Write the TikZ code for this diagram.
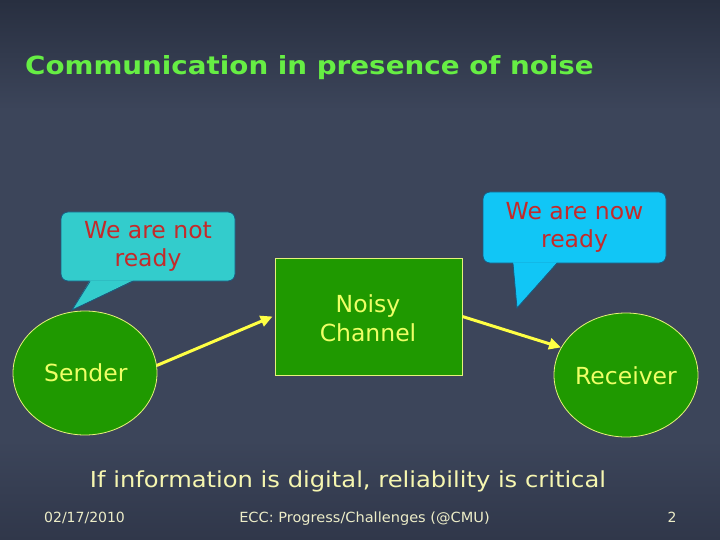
\documentclass[tikz,border=0pt]{standalone}
\usepackage{graphicx}
\usepackage{fontspec}
\setmainfont{DejaVu Sans}
\usetikzlibrary{arrows.meta,shapes.geometric}
\definecolor{bg}{HTML}{3C455A}
\definecolor{bgtop}{HTML}{282F40}
\definecolor{bgbot}{HTML}{30374A}
\definecolor{titlegreen}{HTML}{66EE44}
\definecolor{nodegreen}{HTML}{1F9900}
\definecolor{nodeedge}{HTML}{E6F27A}
\definecolor{nodetext}{HTML}{EEFF66}
\definecolor{calloutA}{HTML}{33CCCC}
\definecolor{calloutB}{HTML}{11C6F6}
\definecolor{calloutedge}{HTML}{1A5A80}
\definecolor{callouttext}{HTML}{C42A2A}
\definecolor{arrowyellow}{HTML}{FFFF44}
\definecolor{lighttext}{HTML}{F6F6B0}
\definecolor{foottext}{HTML}{EDEDC8}
\tikzset{
  bodyfont/.style={font=\fontsize{23.5}{28.5}\selectfont},
  callbox/.style={draw=calloutedge, line width=0.8pt, rounded corners=7pt, align=center,
    text=callouttext, bodyfont, inner sep=0pt},
  endpoint/.style={ellipse, draw=nodeedge, line width=0.8pt, fill=nodegreen,
    minimum width=144, minimum height=124, inner sep=0pt},
  chanbox/.style={draw=nodeedge, line width=0.8pt, fill=nodegreen,
    minimum width=187, minimum height=117, inner sep=0pt},
  nodelabel/.style={text=nodetext, bodyfont, align=center, inner sep=0pt},
  flow/.style={draw=arrowyellow, line width=3pt, -{Triangle[length=12pt,width=11pt]}},
  foot/.style={text=foottext, font=\fontsize{14}{16}\selectfont, inner sep=0pt, anchor=base}
}
\begin{document}
\begin{tikzpicture}[x=1pt,y=-1pt]
\useasboundingbox (0,0) rectangle (720,540);
\fill[bg] (0,0) rectangle (720,540);
\shade[top color=bgtop, bottom color=bg] (0,0) rectangle (720,110);
\shade[top color=bg, bottom color=bgbot] (0,440) rectangle (720,540);

% title
\node[anchor=base west, inner sep=0pt, text=titlegreen,
  font=\bfseries\fontsize{25}{30}\selectfont] (title) at (25,75) {\scalebox{1.11}[1]{Communication in presence of noise}};

% left callout
\node[callbox, fill=calloutA, minimum width=174, minimum height=69] (callL) at (148,246.5) {We are not\\ready};
\coordinate (tipL) at (72,310);
\fill[calloutA] ([xshift=-58,yshift=1]callL.south) -- (tipL) -- ([xshift=-15,yshift=1]callL.south) -- cycle;
\draw[calloutedge, line width=0.8pt] ([xshift=-58]callL.south) -- (tipL) -- ([xshift=-15]callL.south);

% right callout
\node[callbox, fill=calloutB, minimum width=183, minimum height=71] (callR) at (574.5,227.5) {We are now\\ready};
\coordinate (tipR) at (517,308);
\fill[calloutB] ([xshift=-61.5,yshift=1]callR.south) -- (tipR) -- ([xshift=-17.5,yshift=1]callR.south) -- cycle;
\draw[calloutedge, line width=0.8pt] ([xshift=-61.5]callR.south) -- (tipR) -- ([xshift=-17.5]callR.south);

% sender / channel / receiver
\node[endpoint] (sender) at (85,373) {};
\node[nodelabel, anchor=base west] (senderlbl) at (44,381) {Sender};
\node[chanbox] (chan) at (368.5,316.5) {};
\node[nodelabel] (chanlbl) at (368,318) {Noisy\\Channel};
\node[endpoint] (recv) at (626,375) {};
\node[nodelabel, anchor=base] (recvlbl) at (626,384) {Receiver};

% arrows
\draw[flow] (sender.6) -- ([xshift=-2]chan.west);
\draw[flow] (chan.east) -- (recv.157);

% bottom text
\node[anchor=base, inner sep=0pt, text=lighttext, font=\fontsize{22}{26}\selectfont] (note) at (348,487)
  {\scalebox{1.1}[1]{If information is digital, reliability is critical}};

% footer
\node[foot, anchor=base west] (date) at (44,522.5) {02/17/2010};
\node[foot] (footer) at (364.5,522.5) {\scalebox{1.04}[1]{ECC: Progress/Challenges (@CMU)}};
\node[foot] (page) at (672,522.5) {2};
\end{tikzpicture}
\end{document}
